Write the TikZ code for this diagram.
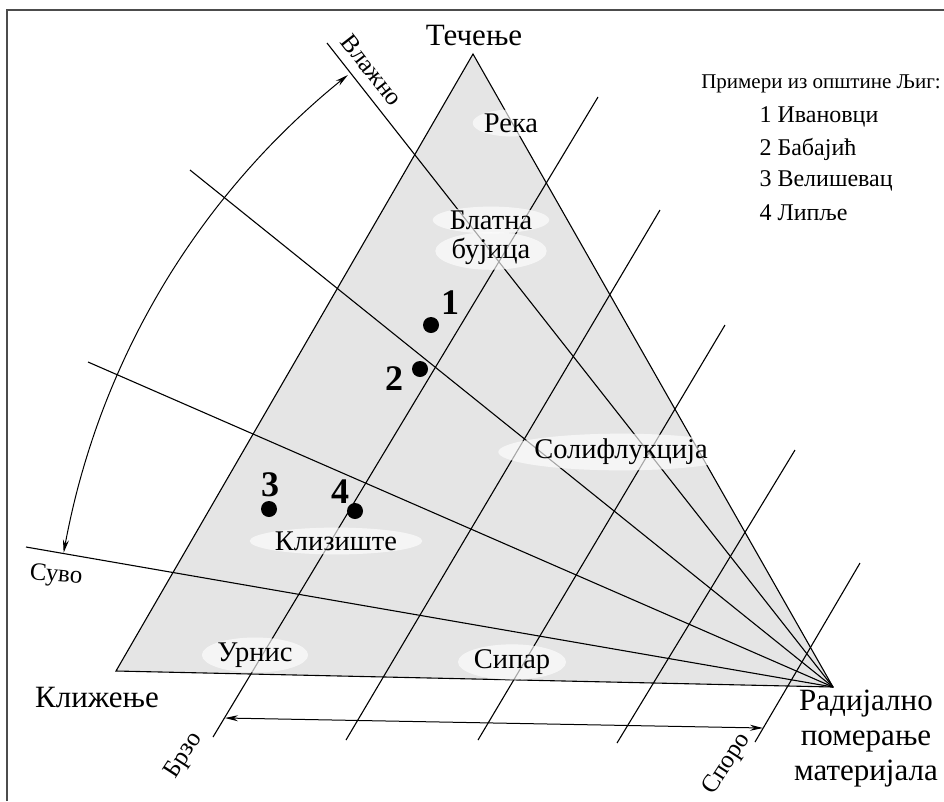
\documentclass[tikz,border=0pt]{standalone}
\usepackage{fontspec}
\setmainfont{Liberation Serif}
\usetikzlibrary{arrows.meta,shapes.geometric}
\begin{document}
\begin{tikzpicture}[x=1pt,y=-1pt,
  every node/.style={font=\rmfamily},
  ln/.style={line width=1.1pt, black},
  region/.style={ellipse, fill=white, fill opacity=0.65, text opacity=1, inner sep=0pt, font=\rmfamily\fontsize{28.5}{32}\selectfont},
  axislbl/.style={font=\rmfamily\fontsize{31}{35}\selectfont, align=center},
  smalllbl/.style={font=\rmfamily\fontsize{25}{28}\selectfont, inner sep=1pt},
  num/.style={font=\rmfamily\bfseries\fontsize{36}{40}\selectfont},
  dotnode/.style={circle, fill=black, inner sep=0pt, minimum size=16pt},
  legendtxt/.style={anchor=west, font=\rmfamily\fontsize{24}{28}\selectfont},
  dblarr/.style={{Stealth[length=13pt,width=6pt]}-{Stealth[length=13pt,width=6pt]}, line width=1pt}]
\useasboundingbox (0,0) rectangle (944,801);
% frame
\draw[line width=1.6pt, black!70] (7,801) -- (7,10) -- (944,10);
% key points
\coordinate (V) at (833,687);
\coordinate (A) at (473,54);
\coordinate (L) at (116,671);
\coordinate (W) at (327,43);
\coordinate (FA) at (190,170);
\coordinate (FB) at (88,362);
\coordinate (S) at (26,547);
\coordinate (P1a) at (213,737); \coordinate (P1b) at (598,97);
\coordinate (P2a) at (346,740); \coordinate (P2b) at (660,210);
\coordinate (P3a) at (478,740); \coordinate (P3b) at (725,325);
\coordinate (P4a) at (617,743); \coordinate (P4b) at (795,450);
\coordinate (P5a) at (755,742); \coordinate (P5b) at (860,563);
\coordinate (BL) at (225,718);
\coordinate (BR) at (763,728);
% triangle fill
\fill[gray!20] (L) -- (A) -- (V) -- cycle;
% fan lines
\draw[ln] (W) -- (V);
\draw[ln] (FA) -- (V);
\draw[ln] (FB) -- (V);
\draw[ln] (S) -- (V);
% parallel lines
\draw[ln] (P1a) -- (P1b);
\draw[ln] (P2a) -- (P2b);
\draw[ln] (P3a) -- (P3b);
\draw[ln] (P4a) -- (P4b);
\draw[ln] (P5a) -- (P5b);
% triangle outline
\draw[ln, line join=miter] (L) -- (A) -- (V) -- cycle;
% arrows
\draw[dblarr] plot[smooth, variable=\t, domain=170.1:128.4, samples=50] ({833+781*cos(\t)},{687-781*sin(\t)});
\draw[dblarr] (BL) -- (BR);
% region labels
\node[region] (reka) at (511,123) {Река};
\node[region] (blat) at (491,220) {Блатна};
\node[region] (buj) at (491,251) {бујица};
\node[region] (sol) at (621,452) {Солифлукција};
\node[region] (kliz) at (336,541) {Клизиште};
\node[region] (urn) at (255,655) {Урнис};
\node[region] (sip) at (512,662) {Сипар};
% axis labels
\node[axislbl] (tec) at (474,35) {Течење};
\node[axislbl] (klij) at (97,697) {Клижење};
\node[axislbl] (rad) at (866,739) {Радијално\\померање\\материјала};
\node[smalllbl, rotate=-52] (vlaz) at (372,70) {Влажно};
\node[smalllbl, rotate=-5] (suvo) at (56,576) {Суво};
\node[smalllbl, rotate=57] (brzo) at (184,756) {Брзо};
\node[smalllbl, rotate=57] (sporo) at (727,764) {Споро};
% points
\node[dotnode] (d1) at (431,325) {};
\node[num] (n1) at (450,303) {1};
\node[dotnode] (d2) at (420,369) {};
\node[num] (n2) at (394,379) {2};
\node[dotnode] (d3) at (269,509) {};
\node[num] (n3) at (270,485) {3};
\node[dotnode] (d4) at (355,511) {};
\node[num] (n4) at (340,492) {4};
% legend
\node[font=\rmfamily\fontsize{21}{24}\selectfont] (lh) at (821,84) {Примери из општине Љиг:};
\node[legendtxt] (l1) at (756,117) {1 Ивановци};
\node[legendtxt] (l2) at (756,149) {2 Бабајић};
\node[legendtxt] (l3) at (756,181) {3 Велишевац};
\node[legendtxt] (l4) at (756,213) {4 Липље};
\end{tikzpicture}
\end{document}
